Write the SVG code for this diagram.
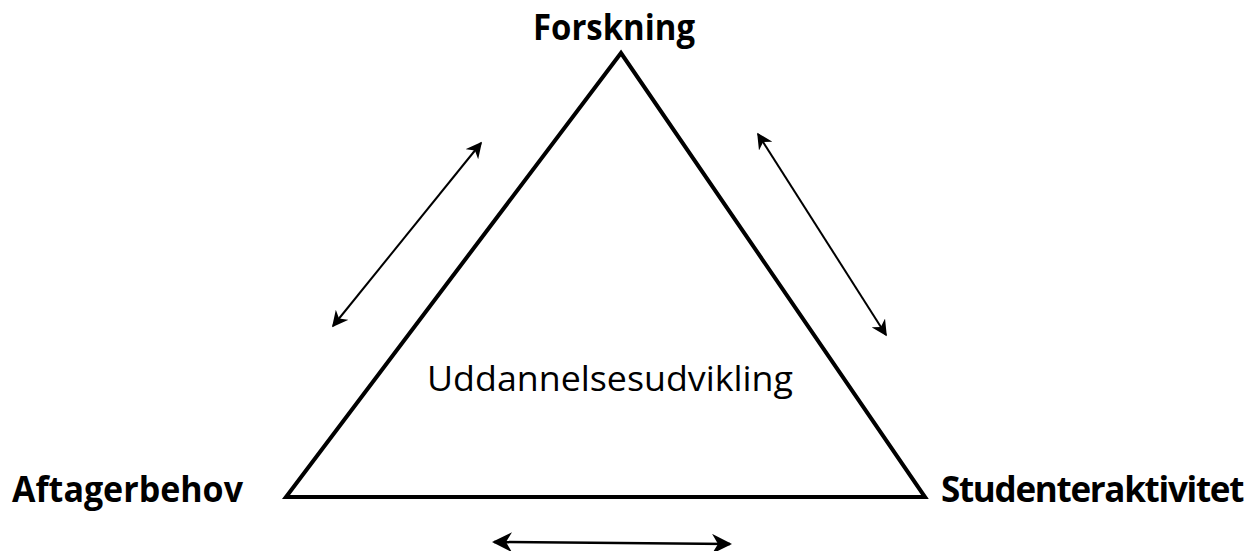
<svg xmlns="http://www.w3.org/2000/svg" width="1256" height="551" viewBox="0 0 1256 551">
<style>
.lbl{font-family:"Open Sans","Liberation Sans",sans-serif;font-weight:bold;font-size:35px;fill:#000}
.mid{font-family:"Open Sans","Liberation Sans",sans-serif;font-size:35px;fill:#000}
.arr{stroke:#000;stroke-width:2;fill:none;marker-start:url(#ah);marker-end:url(#ah)}
</style>
<defs>
<marker id="ah" viewBox="0 0 10 10" refX="9" refY="5" markerWidth="8" markerHeight="8" orient="auto-start-reverse" markerUnits="strokeWidth">
<path d="M0,0 L10,5 L0,10 L3,5 Z" fill="#000"/>
</marker>
</defs>
<rect width="1256" height="551" fill="#fff"/>
<g id="triangle">
<polygon points="621,53 286,497 925,497" fill="none" stroke="#000" stroke-width="4" stroke-linejoin="miter"/>
<text class="mid" x="610" y="391" text-anchor="middle" textLength="366" lengthAdjust="spacingAndGlyphs">Uddannelsesudvikling</text>
</g>
<g id="forskning"><text class="lbl" x="533" y="40" textLength="162" lengthAdjust="spacingAndGlyphs">Forskning</text></g>
<g id="aftagerbehov"><text class="lbl" x="12" y="502" textLength="231" lengthAdjust="spacingAndGlyphs">Aftagerbehov</text></g>
<g id="studenteraktivitet"><text class="lbl" x="941" y="502" font-size="33" letter-spacing="-1.3">Studenteraktivitet</text></g>
<g id="connectors">
<line class="arr" x1="333" y1="326" x2="481" y2="143"/>
<line class="arr" x1="758" y1="134" x2="886" y2="335"/>
<line class="arr" x1="494" y1="542" x2="730" y2="544" style="stroke-width:2.5"/>
</g>
</svg>
